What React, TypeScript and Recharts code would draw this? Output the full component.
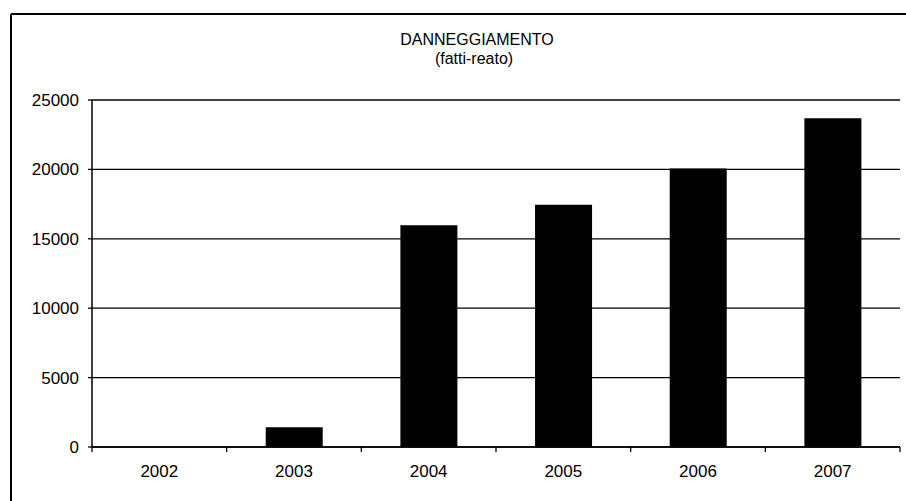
import { BarChart, Bar, XAxis, YAxis, CartesianGrid } from "recharts";

const years = ["2002", "2003", "2004", "2005", "2006", "2007"];
const fatti = [0, 1430, 15970, 17460, 20070, 23680];
const yTicks = [0, 5000, 10000, 15000, 20000, 25000];

const data = years.map((year, i) => ({ year, fatti: fatti[i] }));

const FONT = "'Liberation Sans', Arial, sans-serif";

const YearTick = (props: any) => {
  const { x, y, payload, index } = props;
  const half = payload?.offset ?? 67;
  const axisY = y - 18;
  return (
    <g>
      <line x1={x - half} x2={x - half} y1={axisY} y2={axisY + 5} stroke="#000" strokeWidth={1.3} />
      {index === years.length - 1 && (
        <line x1={x + half} x2={x + half} y1={axisY} y2={axisY + 5} stroke="#000" strokeWidth={1.3} />
      )}
      <text x={x} y={y} dy="0.71em" textAnchor="middle" fontSize={17} fontFamily={FONT} fill="#000">
        {payload.value}
      </text>
    </g>
  );
};

const App = () => {
  return (
    <div
      style={{
        position: "absolute",
        left: 0,
        top: 0,
        width: 906,
        height: 501,
        overflow: "hidden",
        background: "#fff",
      }}
    >
      <BarChart
        width={906}
        height={501}
        data={data}
        margin={{ top: 100, right: 6, bottom: 24, left: 10 }}
        barCategoryGap="29%"
      >
        <CartesianGrid vertical={false} stroke="#000" strokeWidth={1.3} />
        <XAxis
          dataKey="year"
          height={30}
          axisLine={{ stroke: "#000", strokeWidth: 1.5 }}
          tickLine={false}
          tickSize={5}
          tickMargin={13}
          tick={<YearTick />}
          interval={0}
        />
        <YAxis
          width={82}
          domain={[0, 25000]}
          ticks={yTicks}
          interval={0}
          axisLine={{ stroke: "#000", strokeWidth: 1.5 }}
          tickLine={{ stroke: "#000", strokeWidth: 1.3 }}
          tickSize={4}
          tickMargin={9}
          tick={{ fill: "#000", fontSize: 17, fontFamily: FONT }}
        />
        <Bar dataKey="fatti" fill="#000" isAnimationActive={false} />
      </BarChart>
      <svg
        width={906}
        height={501}
        style={{ position: "absolute", left: 0, top: 0, pointerEvents: "none" }}
      >
        <line x1={11} x2={906} y1={14} y2={14} stroke="#000" strokeWidth={2} />
        <line x1={11} x2={11} y1={14} y2={501} stroke="#000" strokeWidth={2} />
        <text x={477} y={45} textAnchor="middle" fontSize={16} fontFamily={FONT} fill="#000">
          DANNEGGIAMENTO
        </text>
        <text x={474} y={64} textAnchor="middle" fontSize={16} fontFamily={FONT} fill="#000">
          (fatti-reato)
        </text>
      </svg>
    </div>
  );
};

export default App;
